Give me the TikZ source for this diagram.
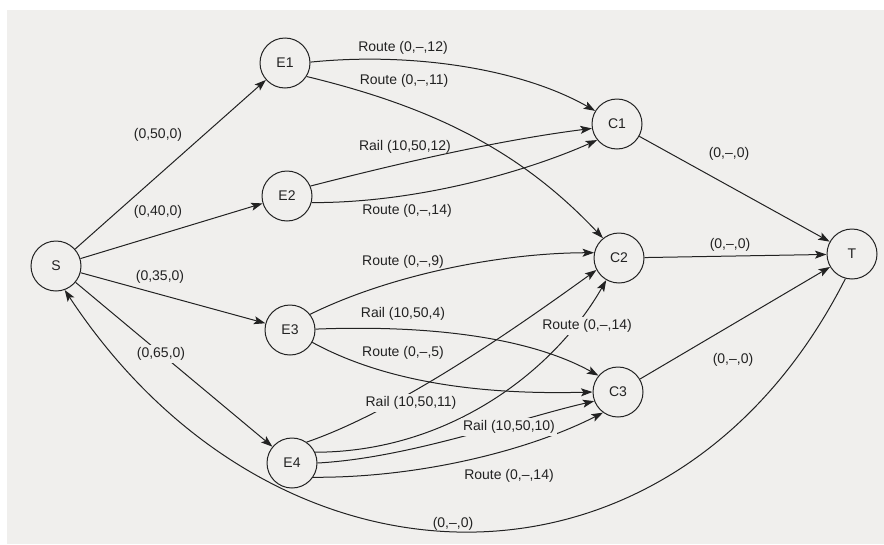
\documentclass[tikz,border=0pt]{standalone}
\usepackage{fontspec}
\setmainfont{Liberation Sans}
\usetikzlibrary{arrows.meta}
\definecolor{paper}{RGB}{240,239,237}
\definecolor{ink}{RGB}{34,34,34}
\begin{document}
\begin{tikzpicture}[x=1pt,y=-1pt,
  state/.style={circle, draw=ink, fill=paper, line width=1pt, minimum size=50pt,
    inner sep=0pt, font=\fontsize{14}{16}\selectfont, text=ink},
  flow/.style={draw=ink, line width=1pt, -{Stealth[length=11.5pt,width=8pt,inset=2.5pt]}},
  lbl/.style={font=\fontsize{14}{16}\selectfont, text=ink, inner sep=1pt},
  cut/.style={lbl, fill=paper, inner sep=2pt}]

% sheet
\fill[white] (0,0) rectangle (884,544);
\fill[paper] (7,10) rectangle (884,544);
\useasboundingbox (0,0) rectangle (884,544);

% source, depots, centres, sink
\node[state] (S)  at (56,266)  {S};
\node[state] (E1) at (285,63)  {E1};
\node[state] (E2) at (287,196) {E2};
\node[state] (E3) at (290,330) {E3};
\node[state] (E4) at (292,463) {E4};
\node[state] (C1) at (617,124) {C1};
\node[state] (C2) at (619,258) {C2};
\node[state] (C3) at (618,392) {C3};
\node[state] (T)  at (852,254) {T};

% supply arcs
\draw[flow] (S) -- (E1);
\draw[flow] (S) -- (E2);
\draw[flow] (S) -- (E3);
\draw[flow] (S) -- (E4);

% transport arcs
\draw[flow] (E1.2)   .. controls (410,52)  and (520,68)  .. (C1.149);
\draw[flow] (E1.-32) .. controls (433,107) and (521,151) .. (C2.129);
\draw[flow] (E2.23)  .. controls (400,163) and (500,140) .. (C1.190);
\draw[flow] (E2.-15) .. controls (420,203) and (530,170) .. (C1.219);
\draw[flow] (E3.38)  .. controls (390,275) and (500,253) .. (C2.168);
\draw[flow] (E3.2)   .. controls (420,325) and (525,335) .. (C3.140);
\draw[flow] (E3.-29) .. controls (385,382) and (480,395) .. (C3.180);
\draw[flow] (E4.55)  .. controls (400,410) and (520,325) .. (C2.208);
\draw[flow] (E4.25)  .. controls (450,452) and (555,370) .. (C2.240);
\draw[flow] (E4.0)   .. controls (410,458) and (520,418) .. (C3.201);
\draw[flow] (E4.-34) .. controls (420,478) and (530,450) .. (C3.234);

% demand arcs and return arc
\draw[flow] (C1) -- (T);
\draw[flow] (C2) -- (T);
\draw[flow] (C3) -- (T);
\draw[flow] (T.255) .. controls (674,617) and (276,610) .. (S.290);

% arc labels
\node[lbl] (l1)  at (158,135) {(0,50,0)};
\node[lbl] (l2)  at (158,212) {(0,40,0)};
\node[lbl] (l3)  at (160,277) {(0,35,0)};
\node[cut] (l4)  at (161,354) {(0,65,0)};
\node[lbl] (l5)  at (403,48)  {Route (0,–,12)};
\node[lbl] (l6)  at (404,81)  {Route (0,–,11)};
\node[lbl] (l7)  at (405,147) {Rail (10,50,12)};
\node[lbl] (l8)  at (407,211) {Route (0,–,14)};
\node[lbl] (l9)  at (403,262) {Route (0,–,9)};
\node[lbl] (l10) at (403,314) {Rail (10,50,4)};
\node[lbl] (l11) at (403,353) {Route (0,–,5)};
\node[cut] (l12) at (411,403) {Rail (10,50,11)};
\node[cut] (l13) at (587,326) {Route (0,–,14)};
\node[cut] (l14) at (509,427) {Rail (10,50,10)};
\node[lbl] (l15) at (509,476) {Route (0,–,14)};
\node[lbl] (l16) at (729,154) {(0,–,0)};
\node[lbl] (l17) at (730,245) {(0,–,0)};
\node[lbl] (l18) at (733,360) {(0,–,0)};
\node[lbl] (l19) at (453,524) {(0,–,0)};
\end{tikzpicture}
\end{document}
